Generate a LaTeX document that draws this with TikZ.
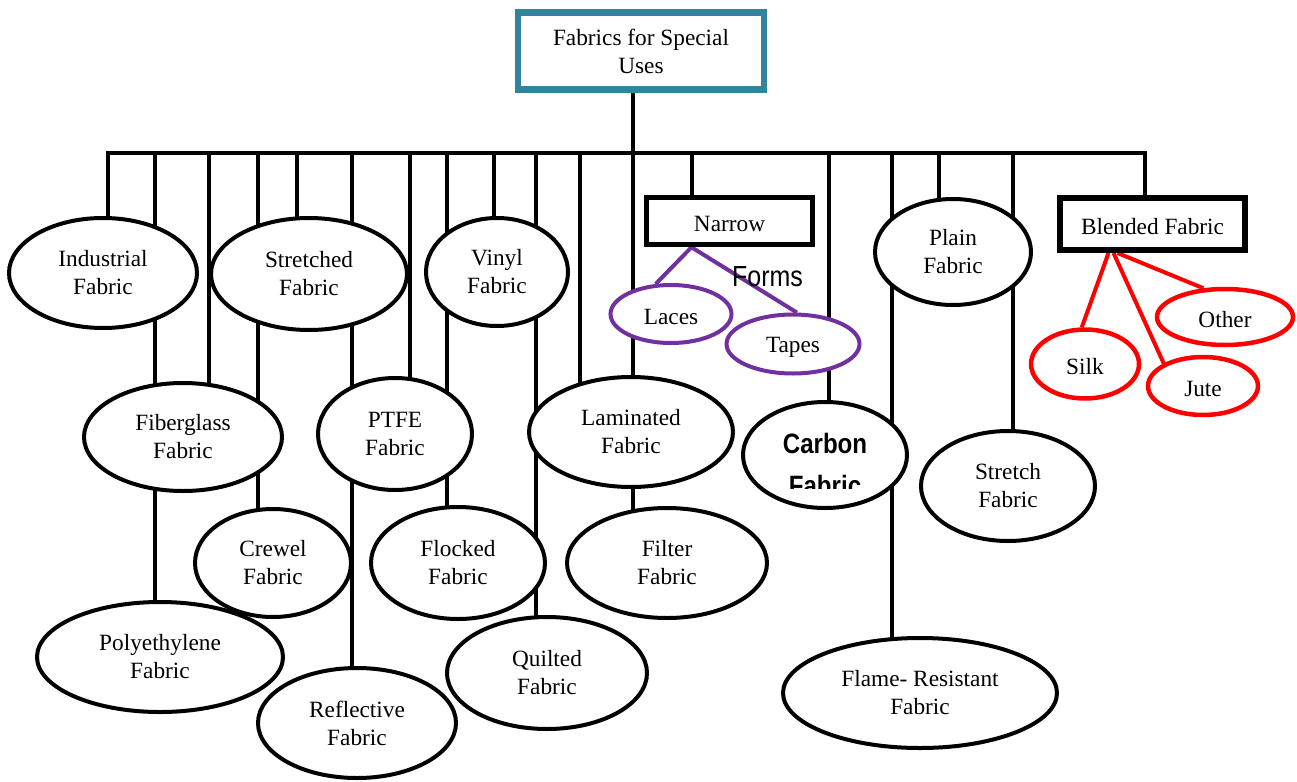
\documentclass[tikz,border=0pt]{standalone}
\usepackage{fontspec}
\setmainfont{Liberation Serif}
\newfontfamily\narrowsans[FakeStretch=0.86]{Liberation Sans}
\usetikzlibrary{shapes.geometric,backgrounds}

\definecolor{rootteal}{RGB}{49,132,155}
\definecolor{formpurple}{RGB}{112,48,160}
\definecolor{blendred}{RGB}{255,0,0}

\tikzset{
  labelfont/.style={font=\fontsize{23.3}{28}\selectfont,
    execute at begin node={\rule{0pt}{22pt}}},
  fab/.style={ellipse, draw=black, line width=4pt, fill=white, inner sep=0pt,
    align=center, labelfont},
  formnode/.style={ellipse, draw=formpurple, line width=4pt, fill=white,
    inner sep=0pt, labelfont},
  blendnode/.style={ellipse, draw=blendred, line width=4.5pt, fill=white,
    inner sep=0pt, labelfont},
  catbox/.style={rectangle, draw=black, line width=5.5pt, fill=white,
    inner sep=0pt, labelfont},
  link/.style={draw=black, line width=4pt},
  formlink/.style={draw=formpurple, line width=4pt},
  blendlink/.style={draw=blendred, line width=4pt},
}

\begin{document}
\begin{tikzpicture}[x=1pt,y=-1pt]
\useasboundingbox (0,0) rectangle (1297,781);

% root
\node[rectangle, draw=rootteal, line width=6.5pt, fill=white, inner sep=0pt,
  minimum width=246pt, minimum height=77pt, align=center, labelfont]
  (root) at (641,51) {Fabrics for Special\\Uses};

% first row
\node[fab, minimum width=188pt, minimum height=110pt] (ind)   at (103,273) {Industrial\\Fabric};
\node[fab, minimum width=196pt, minimum height=112pt] (str)   at (309,274) {Stretched\\Fabric};
\node[fab, minimum width=142pt, minimum height=108pt] (vin)   at (497,272) {Vinyl\\Fabric};
\node[fab, minimum width=156pt, minimum height=106pt] (plain) at (953,252) {Plain\\Fabric};

% second row
\node[fab, minimum width=198pt, minimum height=108pt] (fib)  at (183,437) {Fiberglass\\Fabric};
\node[fab, minimum width=154pt, minimum height=112pt] (ptfe) at (395,434) {PTFE\\Fabric};
\node[fab, minimum width=204pt, minimum height=110pt] (lam)  at (631,432) {Laminated\\Fabric};
\node[fab, minimum width=164pt, minimum height=106pt] (carb) at (825,455) {};
\node[fab, minimum width=174pt, minimum height=110pt] (strc) at (1008,486) {Stretch\\Fabric};

% third row
\node[fab, minimum width=156pt, minimum height=108pt] (crw)  at (273,563) {Crewel\\Fabric};
\node[fab, minimum width=174pt, minimum height=112pt] (flk)  at (458,563) {Flocked\\Fabric};
\node[fab, minimum width=200pt, minimum height=110pt] (filt) at (667,563) {Filter\\Fabric};

% bottom row
\node[fab, minimum width=246pt, minimum height=110pt] (poly)  at (160,657) {Polyethylene\\Fabric};
\node[fab, minimum width=198pt, minimum height=110pt] (refl)  at (357,723) {Reflective\\Fabric};
\node[fab, minimum width=200pt, minimum height=112pt] (quil)  at (547,673) {Quilted\\Fabric};
\node[fab, minimum width=274pt, minimum height=110pt] (flame) at (920,693) {Flame- Resistant\\Fabric};

% carbon label, cut off at the bottom
\begin{scope}
  \clip (730,380) rectangle (920,488);
  \node[inner sep=0pt, align=center,
    font=\narrowsans\bfseries\fontsize{28}{42}\selectfont]
    (carbtxt) at (825,464) {Carbon\\Fabric};
\end{scope}

% narrow fabrics
\node[catbox, minimum width=166pt, minimum height=47pt] (narrow) at (729.5,221) {Narrow};
\node[inner sep=0pt, font=\narrowsans\fontsize{29}{34}\selectfont] (forms) at (767.5,276.5) {Forms};
\node[formnode, minimum width=121pt, minimum height=58pt] (laces) at (671,314) {Laces};
\node[formnode, minimum width=133pt, minimum height=59pt] (tapes) at (793,344) {Tapes};

% blended fabrics
\node[catbox, line width=6pt, minimum width=185pt, minimum height=52pt] (blended) at (1152.5,224) {Blended Fabric};
\node[blendnode, minimum width=108pt, minimum height=69pt] (silk)  at (1085,364) {Silk};
\node[blendnode, minimum width=110pt, minimum height=58pt] (jute)  at (1203,386) {Jute};
\node[blendnode, minimum width=136pt, minimum height=56pt] (other) at (1225,317) {Other};

\begin{pgfonlayer}{background}
  \fill[white] (0,0) rectangle (1297,781);

  % distribution bar and trunk
  \coordinate (barwest) at (108,153);
  \coordinate (bareast) at (1145,153);
  \coordinate (trunk) at (633,153);
  \draw[link, line cap=rect] (barwest) -- (bareast);
  \draw[link] (root.south -| trunk) -- (trunk |- filt.center);

  % drops from the bar
  \foreach \px/\kid in {108/ind,155/poly,209/fib,258/crw,297/str,352/refl,
      410/ptfe,447/flk,494/vin,536/quil,580/lam,692/narrow,829/carb,
      892/flame,939/plain,1013/strc,1145/blended} {
    \coordinate (drop-\kid) at (\px,153);
    \draw[link] (drop-\kid) -- (drop-\kid |- \kid.center);
  }

  % narrow forms
  \draw[formlink] ([xshift=-38pt]narrow.south) -- (laces.117);
  \draw[formlink] ([xshift=-38pt]narrow.south) -- (tapes.83);

  % blends
  \draw[blendlink] ([xshift=-44pt]blended.south) -- (silk.95);
  \draw[blendlink] ([xshift=-39pt]blended.south) -- (jute.150);
  \draw[blendlink] ([xshift=-35pt]blended.south) -- (other.127);
\end{pgfonlayer}
\end{tikzpicture}
\end{document}
